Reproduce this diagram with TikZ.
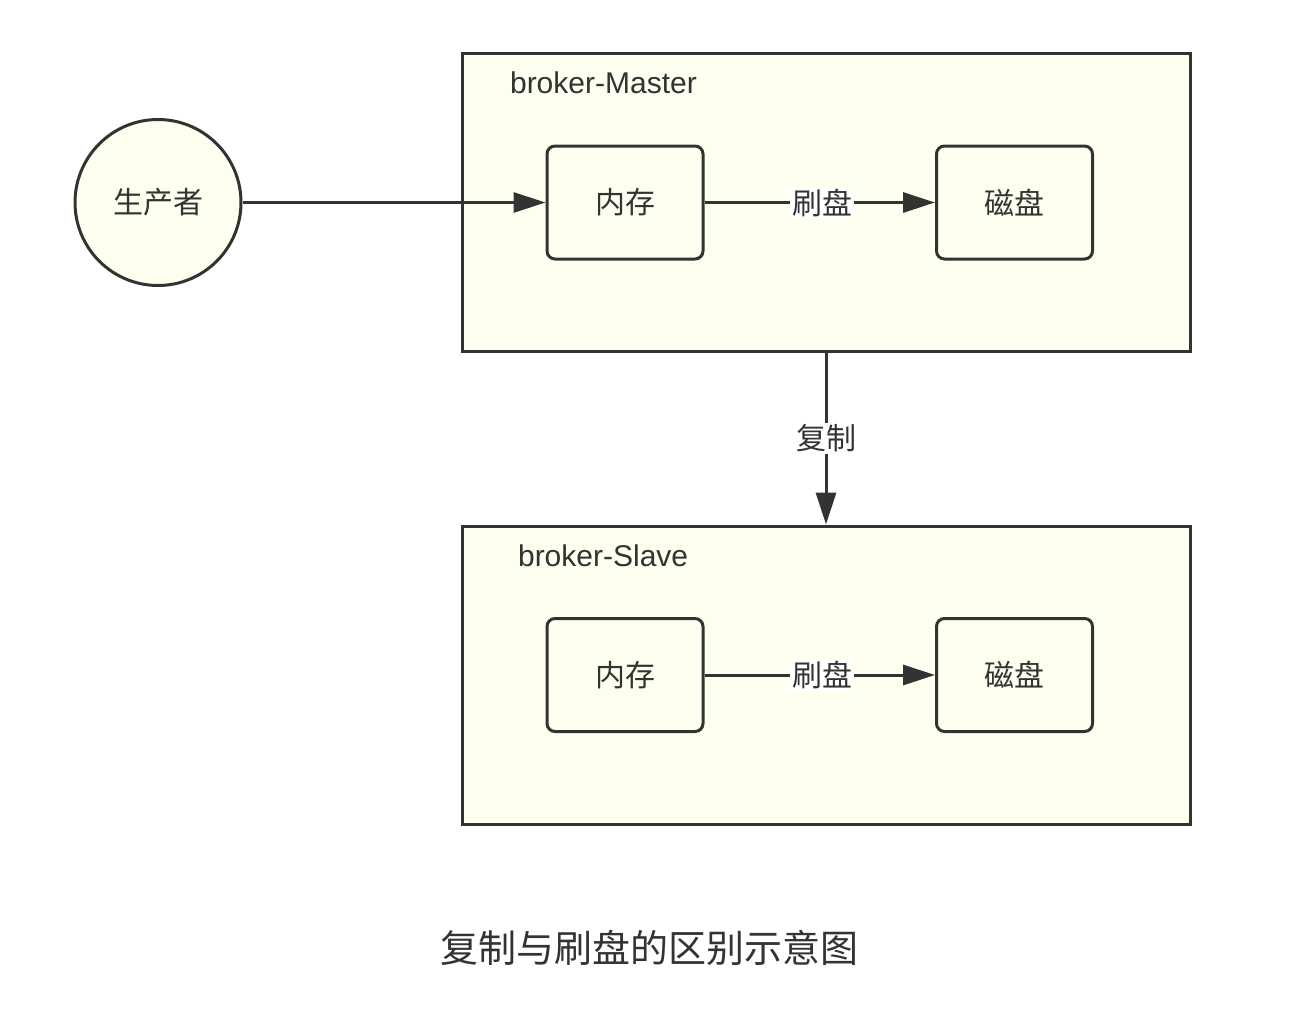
\documentclass[tikz,border=0pt]{standalone}
\usepackage{fontspec}
\setmainfont{Liberation Sans}
\newfontfamily\cjk{Noto Sans CJK SC}
\definecolor{ink}{HTML}{333333}
\definecolor{boxfill}{HTML}{FFFFF0}
\usetikzlibrary{arrows.meta, positioning}

\begin{document}
\begin{tikzpicture}[x=0.5pt, y=-0.5pt,
  broker/.style={draw=ink, fill=boxfill, line width=1.5pt, minimum width=364pt, minimum height=149pt},
  store/.style={draw=ink, fill=boxfill, line width=1.5pt, rounded corners=4pt, minimum width=78pt, minimum height=56.5pt, text=ink, font=\cjk\fontsize{15}{18}\selectfont},
  prod/.style={circle, draw=ink, fill=boxfill, line width=1.5pt, minimum size=83pt, text=ink, font=\cjk\fontsize{15}{18}\selectfont},
  title/.style={anchor=west, text=ink, font=\fontsize{15}{18}\selectfont},
  conn/.style={draw=ink, line width=1.5pt, -{Triangle[length=16pt, width=10pt]}},
  tag/.style={fill=white, inner sep=1pt, text=ink, font=\cjk\fontsize{15}{18}\selectfont}
]
  \fill[white] (0,0) rectangle (1295,1012);
  \useasboundingbox (0,0) rectangle (1295,1012);

  \node[broker] (master) at (826, 202) {};
  \node[title] (mlabel) at (503, 83) {broker-Master};
  \node[store] (memM) at (625, 202.5) {内存};
  \node[store] (diskM) at (1014.5, 202.5) {磁盘};

  \node[broker] (slave) at (826, 675) {};
  \node[title] (slabel) at (511, 556) {broker-Slave};
  \node[store] (memS) at (625, 675) {内存};
  \node[store] (diskS) at (1014.5, 675) {磁盘};

  \node[prod] (producer) at (158, 202.5) {生产者};

  \draw[conn] (producer) -- (memM);
  \draw[conn] (memM) -- node[tag, pos=0.51] {刷盘} (diskM);
  \draw[conn] (memS) -- node[tag, pos=0.51] {刷盘} (diskS);
  \draw[conn] (master) -- node[tag] {复制} (slave);

  \node[text=ink, font=\cjk\fontsize{19}{22}\selectfont] (caption) at (649, 948) {复制与刷盘的区别示意图};
\end{tikzpicture}
\end{document}
